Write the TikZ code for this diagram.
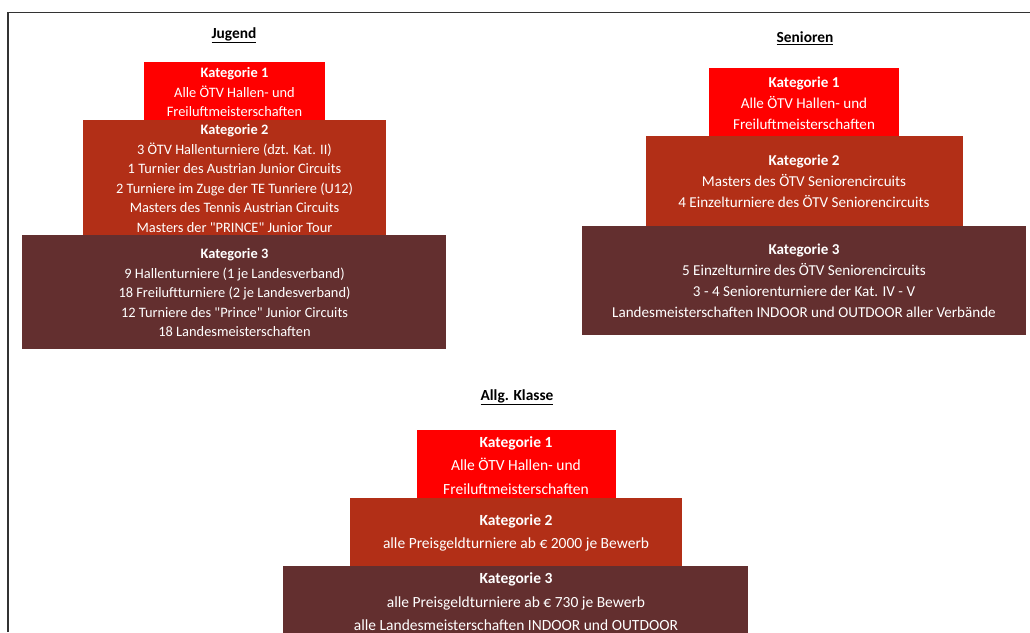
\documentclass[tikz,border=0pt]{standalone}
\usepackage{fontspec}
\setmainfont{Carlito}[Ligatures=TeXOff]
\definecolor{kone}{HTML}{FF0000}
\definecolor{ktwo}{HTML}{B22F17}
\definecolor{kthree}{HTML}{632F2F}
\definecolor{frame}{HTML}{333333}
\begin{document}
\begin{tikzpicture}[x=1pt,y=-1pt,
  tier/.style={draw=none,text=white,align=center,inner sep=0pt,anchor=center},
  ttl/.style={font=\fontsize{15.4}{17}\selectfont\bfseries,text=black,inner sep=0pt},
  fj/.style={font=\fontsize{14.4}{19.5}\selectfont},
  fs/.style={font=\fontsize{15.1}{21}\selectfont},
  fa/.style={font=\fontsize{15.5}{23.5}\selectfont}]
\useasboundingbox (0,0) rectangle (1030,632);
\fill[white] (0,0) rectangle (1030,632);
\coordinate (fc) at (8,12.5);
\coordinate (fr) at (1030,12.5);
\coordinate (fb) at (8,632);
\draw[frame,line width=1.5pt] (fb) -- (fc) -- (fr);
% Jugend
\node[ttl] (tj) at (234,35) {\underline{Jugend}};
\fill[kone] (144,62) rectangle (325,120);
\fill[ktwo] (83,120) rectangle (386,235);
\fill[kthree] (22,235) rectangle (446,349);
\node[tier,fj] (j1) at (234.5,92) {\textbf{Kategorie 1}\\Alle ÖTV Hallen- und\\Freiluftmeisterschaften};
\node[tier,fj] (j2) at (234.5,178.5) {\textbf{Kategorie 2}\\3 ÖTV Hallenturniere (dzt. Kat. II)\\1 Turnier des Austrian Junior Circuits\\2 Turniere im Zuge der TE Tunriere (U12)\\Masters des Tennis Austrian Circuits\\Masters der "PRINCE" Junior Tour};
\node[tier,fj] (j3) at (234.5,292.5) {\textbf{Kategorie 3}\\9 Hallenturniere (1 je Landesverband)\\18 Freiluftturniere (2 je Landesverband)\\12 Turniere des "Prince" Junior Circuits\\18 Landesmeisterschaften};
% Senioren
\node[ttl] (ts) at (805,38) {\underline{Senioren}};
\fill[kone] (709,68) rectangle (899,136);
\fill[ktwo] (646,136) rectangle (963,226);
\fill[kthree] (582,226) rectangle (1026,335);
\node[tier,fs] (s1) at (804,103) {\textbf{Kategorie 1}\\Alle ÖTV Hallen- und\\Freiluftmeisterschaften};
\node[tier,fs] (s2) at (804,181) {\textbf{Kategorie 2}\\Masters des ÖTV Seniorencircuits\\4 Einzelturniere des ÖTV Seniorencircuits};
\node[tier,fs] (s3) at (804,281) {\textbf{Kategorie 3}\\5 Einzelturnire des ÖTV Seniorencircuits\\3 - 4 Seniorenturniere der Kat. IV - V\\Landesmeisterschaften INDOOR und OUTDOOR aller Verbände};
% Allg. Klasse
\node[ttl] (ta) at (517,397) {\underline{Allg. Klasse}};
\fill[kone] (417,430) rectangle (616,498);
\fill[ktwo] (350,498) rectangle (682,566);
\fill[kthree] (283,566) rectangle (748,640);
\node[tier,fa] (a1) at (516,465.5) {\textbf{Kategorie 1}\\Alle ÖTV Hallen- und\\Freiluftmeisterschaften};
\node[tier,fa] (a2) at (516,533) {\textbf{Kategorie 2}\\alle Preisgeldturniere ab € 2000 je Bewerb};
\node[tier,fa] (a3) at (516,602) {\textbf{Kategorie 3}\\alle Preisgeldturniere ab € 730 je Bewerb\\alle Landesmeisterschaften INDOOR und OUTDOOR};
\end{tikzpicture}
\end{document}
